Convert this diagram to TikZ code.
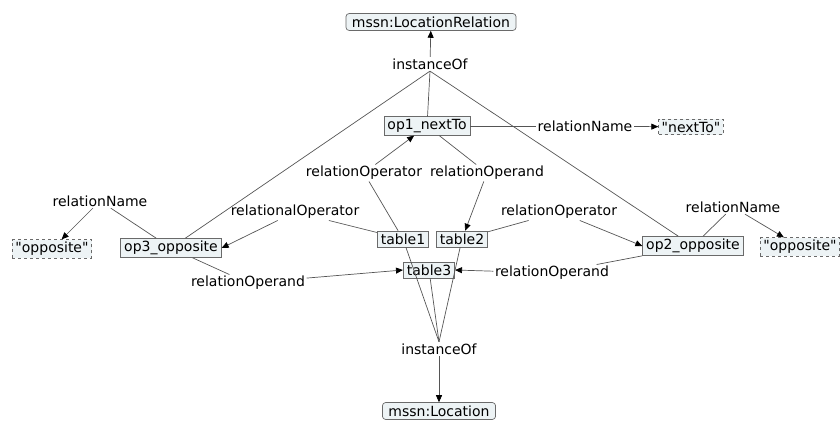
\documentclass[tikz,border=0pt]{standalone}
\usepackage{fontspec}
\setmainfont{DejaVu Sans}[Ligatures=TeXOff]
\usetikzlibrary{arrows.meta}
\definecolor{boxfill}{HTML}{EDF3F5}
\definecolor{boxline}{HTML}{6A6A6A}
\definecolor{edgecol}{HTML}{555555}
\begin{document}
\begin{tikzpicture}[x=1pt,y=-1pt,
  every node/.style={font=\fontsize{14}{16}\selectfont},
  cls/.style={draw=boxline,fill=boxfill,rounded corners=3pt,inner xsep=6pt,inner ysep=3pt,line width=0.7pt},
  inst/.style={draw=boxline,fill=boxfill,inner xsep=3.5pt,inner ysep=2.5pt,line width=0.7pt},
  lit/.style={draw=boxline,fill=boxfill,dashed,inner xsep=3pt,inner ysep=2.5pt,line width=0.7pt},
  lbl/.style={inner sep=1.5pt},
  edge/.style={draw=edgecol,line width=0.7pt},
  arr/.style={edge,-{Triangle[length=7pt,width=6pt,black]}}
]
\useasboundingbox (0,0) rectangle (840,422);
% nodes
\node[cls] (locrel) at (431,22) {mssn:LocationRelation};
\node[lbl] (inst1) at (430,64) {instanceOf};
\node[inst] (op1) at (427,126) {op1\_nextTo};
\node[lbl] (rn1) at (585,126) {relationName};
\node[lit] (nextto) at (691,127) {"nextTo"};
\node[lbl] (rop1) at (364,173) {relationOperator};
\node[lbl] (rod1) at (487,173) {relationOperand};
\node[lbl] (ralop) at (295,212) {relationalOperator};
\node[lbl] (rop2) at (559,212) {relationOperator};
\node[inst] (t1) at (403,239) {table1};
\node[inst] (t2) at (462,239) {table2};
\node[inst] (t3) at (429,270) {table3};
\node[lbl] (rod2) at (552,273) {relationOperand};
\node[lbl] (rod3) at (248,283) {relationOperand};
\node[inst] (op3) at (171,248) {op3\_opposite};
\node[lit] (oppL) at (52,249) {"opposite"};
\node[lbl] (rnL) at (100,201) {relationName};
\node[inst] (op2) at (693,246) {op2\_opposite};
\node[lit] (oppR) at (800,247) {"opposite"};
\node[lbl] (rnR) at (733,207) {relationName};
\node[lbl] (inst2) at (439,349) {instanceOf};
\node[cls] (loc) at (439,411) {mssn:Location};
% edges
\draw[arr] (inst1) -- (locrel);
\draw[edge] (op1) -- (inst1.south);
\draw[edge] (op3) -- (inst1.south);
\draw[edge] (op2) -- (inst1.south);
\draw[edge] (op1) -- (rn1);
\draw[arr] (rn1) -- (nextto);
\draw[edge] (t1) -- (rop1);
\draw[arr] (rop1) -- (op1);
\draw[edge] (op1) -- (rod1);
\draw[arr] (rod1) -- (t2);
\draw[edge] (t1) -- (ralop);
\draw[arr] (ralop) -- (op3.east);
\draw[edge] (t2) -- (rop2);
\draw[arr] (rop2) -- (op2.west);
\draw[edge] (op2.south west) -- (rod2);
\draw[arr] (rod2) -- (t3.east);
\draw[edge] (op3) -- (rod3);
\draw[arr] (rod3) -- (t3.west);
\draw[edge] (op3) -- (rnL);
\draw[arr] (rnL) -- (oppL);
\draw[edge] (op2) -- (rnR);
\draw[arr] (rnR) -- (oppR);
\draw[edge] (t1) -- (inst2.north);
\draw[edge] (t3) -- (inst2.north);
\draw[edge] (t2) -- (inst2.north);
\draw[arr] (inst2) -- (loc);
\end{tikzpicture}
\end{document}
